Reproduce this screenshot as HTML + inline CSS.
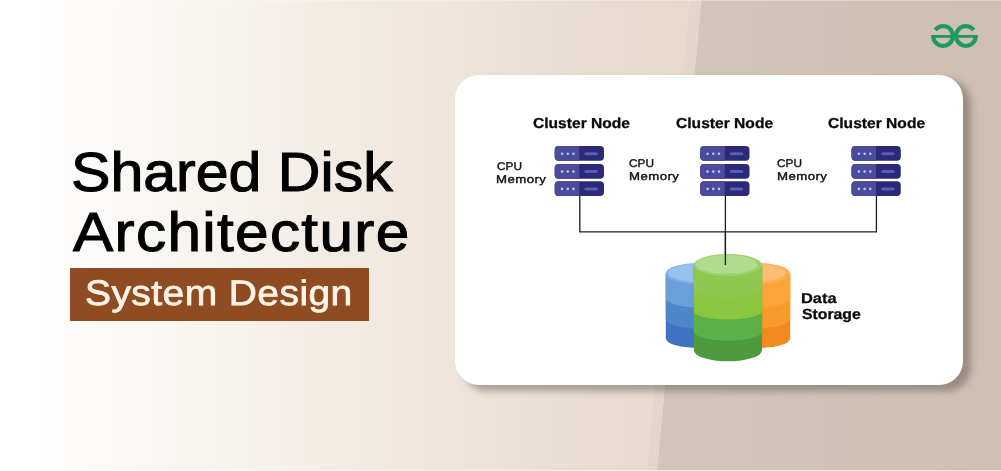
<!DOCTYPE html>
<html lang="en">
<head>
<meta charset="utf-8">
<title>Shared Disk Architecture - System Design</title>
<style>
html,body{margin:0;padding:0;}
body{width:1001px;height:471px;overflow:hidden;position:relative;background:#e6d8cb;font-family:"Liberation Sans",sans-serif;}
#bg{position:absolute;left:0;top:0;width:1001px;height:471px;display:block;}
h1,h2,p{margin:0;padding:0;font-weight:400;font-size:16px;}
.t{position:absolute;display:block;white-space:nowrap;margin:0;padding:0;line-height:1;font-weight:400;transform-origin:0 0;filter:blur(0.3px);text-rendering:geometricPrecision;}
#tag{position:absolute;left:69.8px;top:267.9px;width:299.1px;height:52.9px;background:#8f4b22;}
#card{position:absolute;left:455px;top:75px;width:508px;height:309.5px;border-radius:24px;background:#fff;box-shadow:8px 5.5px 7px rgba(88,78,74,.46);}
#art{position:absolute;left:0;top:0;width:1001px;height:471px;display:block;filter:blur(0.3px);}
</style>
</head>
<body>
<svg id="bg" viewBox="0 0 1001 471" width="1001" height="471">
  <defs>
    <linearGradient id="gl" gradientUnits="userSpaceOnUse" x1="0" y1="0" x2="705" y2="0">
      <stop offset="0" stop-color="#ffffff"/>
      <stop offset="0.05" stop-color="#ffffff"/>
      <stop offset="0.14" stop-color="#fcfaf8"/>
      <stop offset="0.28" stop-color="#f8f5f0"/>
      <stop offset="0.43" stop-color="#f4eee7"/>
      <stop offset="0.57" stop-color="#f0e8df"/>
      <stop offset="0.71" stop-color="#ece2d8"/>
      <stop offset="0.85" stop-color="#e8dcd0"/>
      <stop offset="1" stop-color="#e6d9cc"/>
    </linearGradient>
    <linearGradient id="gr" gradientUnits="userSpaceOnUse" x1="655" y1="0" x2="1001" y2="0">
      <stop offset="0" stop-color="#d2c6ba"/>
      <stop offset="0.5" stop-color="#d0c2b6"/>
      <stop offset="1" stop-color="#cfbfb2"/>
    </linearGradient>
  </defs>
  <rect x="0" y="0" width="1001" height="471" fill="url(#gl)"/>
  <polygon points="701.5,0 1001,0 1001,471 657,471" fill="url(#gr)"/>
  <polygon points="690,0 701.5,0 657,471 647,471" fill="#e1d5ca" opacity="0.9"/>
  <rect x="0" y="0" width="1001" height="1" fill="#ffffff" opacity="0.3"/>
  <rect x="0" y="470" width="1001" height="1" fill="#ffffff" opacity="0.6"/>
</svg>

<header id="hero">
  <h1>
    <span class="t" id="t1" style="left:70.61px;top:144.67px;font-size:55.2px;-webkit-text-stroke:1.05px #000;color:#000;transform:scale(1.0702,0.9992);">Shared Disk</span>
    <span class="t" id="t2" style="left:72.67px;top:204.74px;font-size:55.2px;-webkit-text-stroke:1.05px #000;letter-spacing:1.2px;color:#000;transform:scale(1.0928,0.9967);">Architecture</span>
  </h1>
  <div id="tag"></div>
  <p class="t" id="tagt" style="left:84.62px;top:275.51px;font-size:36.2px;-webkit-text-stroke:0.8px #fff4e8;letter-spacing:0.4px;color:#fff4e8;transform:scale(1.0771,0.9787);">System Design</p>
</header>

<main id="diagram">
  <div id="card"></div>

  <section class="node">
    <h2 class="t" id="cn1" style="left:532.69px;top:116.54px;font-size:15.3px;font-weight:700;-webkit-text-stroke:0.3px #0a0a0a;color:#0a0a0a;transform:scale(1.0191,0.9457);">Cluster Node</h2>
    <p>
      <span class="t" id="cm1a" style="left:496.58px;top:161.51px;font-size:11.4px;-webkit-text-stroke:0.4px #111;color:#111;transform:scale(1.0367,0.9825);">CPU</span>
      <span class="t" id="cm1b" style="left:495.65px;top:174.61px;font-size:11.4px;-webkit-text-stroke:0.4px #111;letter-spacing:0.4px;color:#111;transform:scale(1.1585,0.9825);">Memory</span>
    </p>
  </section>
  <section class="node">
    <h2 class="t" id="cn2" style="left:675.59px;top:116.54px;font-size:15.3px;font-weight:700;-webkit-text-stroke:0.3px #0a0a0a;color:#0a0a0a;transform:scale(1.0202,0.9457);">Cluster Node</h2>
    <p>
      <span class="t" id="cm2a" style="left:628.68px;top:158.51px;font-size:11.4px;-webkit-text-stroke:0.4px #111;color:#111;transform:scale(1.0367,0.9825);">CPU</span>
      <span class="t" id="cm2b" style="left:628.5px;top:171.61px;font-size:11.4px;-webkit-text-stroke:0.4px #111;letter-spacing:0.4px;color:#111;transform:scale(1.1585,0.9825);">Memory</span>
    </p>
  </section>
  <section class="node">
    <h2 class="t" id="cn3" style="left:827.54px;top:116.54px;font-size:15.3px;font-weight:700;-webkit-text-stroke:0.3px #0a0a0a;color:#0a0a0a;transform:scale(1.0202,0.9457);">Cluster Node</h2>
    <p>
      <span class="t" id="cm3a" style="left:776.73px;top:158.51px;font-size:11.4px;-webkit-text-stroke:0.4px #111;color:#111;transform:scale(1.0367,0.9825);">CPU</span>
      <span class="t" id="cm3b" style="left:776.55px;top:171.61px;font-size:11.4px;-webkit-text-stroke:0.4px #111;letter-spacing:0.4px;color:#111;transform:scale(1.1585,0.9825);">Memory</span>
    </p>
  </section>
  <section class="storage">
    <h2>
      <span class="t" id="dsa" style="left:800.68px;top:291.67px;font-size:14.6px;font-weight:700;-webkit-text-stroke:0.3px #0a0a0a;color:#0a0a0a;transform:scale(1.1248,0.978);">Data</span>
      <span class="t" id="dsb" style="left:801.68px;top:307.53px;font-size:14.6px;font-weight:700;-webkit-text-stroke:0.3px #0a0a0a;color:#0a0a0a;transform:scale(1.0813,1.0024);">Storage</span>
    </h2>
  </section>

<svg id="art" viewBox="0 0 1001 471" width="1001" height="471">
  
  <!-- connectors -->
  <path d="M579.8 195 V231.8 H876.4 V195 M725.4 195 V265" fill="none" stroke="#1c1c1c" stroke-width="1.3"/>
  <g>
    <g transform="translate(554.7 146.1)">
      <rect x="0" y="0" width="49.3" height="14.7" rx="4" ry="4" fill="#2a2a78"/>
      <path d="M4 0 H24.6 V14.7 H4 A4 4 0 0 1 0 10.7 V4 A4 4 0 0 1 4 0 Z" fill="#4b4a9b"/>
      <circle cx="7.4" cy="7.6" r="1.3" fill="#b4c8f7"/>
      <circle cx="13.1" cy="7.6" r="1.3" fill="#b4c8f7"/>
      <circle cx="18.8" cy="7.6" r="1.3" fill="#b4c8f7"/>
      <rect x="29.6" y="6.1" width="13.6" height="3" rx="1.5" fill="#5b5bb3"/>
    </g>
    <g transform="translate(554.7 164.0)">
      <rect x="0" y="0" width="49.3" height="14.7" rx="4" ry="4" fill="#2a2a78"/>
      <path d="M4 0 H24.6 V14.7 H4 A4 4 0 0 1 0 10.7 V4 A4 4 0 0 1 4 0 Z" fill="#4b4a9b"/>
      <circle cx="7.4" cy="7.6" r="1.3" fill="#b4c8f7"/>
      <circle cx="13.1" cy="7.6" r="1.3" fill="#b4c8f7"/>
      <circle cx="18.8" cy="7.6" r="1.3" fill="#b4c8f7"/>
      <rect x="29.6" y="6.1" width="13.6" height="3" rx="1.5" fill="#5b5bb3"/>
    </g>
    <g transform="translate(554.7 181.3)">
      <rect x="0" y="0" width="49.3" height="14.7" rx="4" ry="4" fill="#2a2a78"/>
      <path d="M4 0 H24.6 V14.7 H4 A4 4 0 0 1 0 10.7 V4 A4 4 0 0 1 4 0 Z" fill="#4b4a9b"/>
      <circle cx="7.4" cy="7.6" r="1.3" fill="#b4c8f7"/>
      <circle cx="13.1" cy="7.6" r="1.3" fill="#b4c8f7"/>
      <circle cx="18.8" cy="7.6" r="1.3" fill="#b4c8f7"/>
      <rect x="29.6" y="6.1" width="13.6" height="3" rx="1.5" fill="#5b5bb3"/>
    </g>
  </g>
  <g>
    <g transform="translate(700.2 146.1)">
      <rect x="0" y="0" width="49.3" height="14.7" rx="4" ry="4" fill="#2a2a78"/>
      <path d="M4 0 H24.6 V14.7 H4 A4 4 0 0 1 0 10.7 V4 A4 4 0 0 1 4 0 Z" fill="#4b4a9b"/>
      <circle cx="7.4" cy="7.6" r="1.3" fill="#b4c8f7"/>
      <circle cx="13.1" cy="7.6" r="1.3" fill="#b4c8f7"/>
      <circle cx="18.8" cy="7.6" r="1.3" fill="#b4c8f7"/>
      <rect x="29.6" y="6.1" width="13.6" height="3" rx="1.5" fill="#5b5bb3"/>
    </g>
    <g transform="translate(700.2 164.0)">
      <rect x="0" y="0" width="49.3" height="14.7" rx="4" ry="4" fill="#2a2a78"/>
      <path d="M4 0 H24.6 V14.7 H4 A4 4 0 0 1 0 10.7 V4 A4 4 0 0 1 4 0 Z" fill="#4b4a9b"/>
      <circle cx="7.4" cy="7.6" r="1.3" fill="#b4c8f7"/>
      <circle cx="13.1" cy="7.6" r="1.3" fill="#b4c8f7"/>
      <circle cx="18.8" cy="7.6" r="1.3" fill="#b4c8f7"/>
      <rect x="29.6" y="6.1" width="13.6" height="3" rx="1.5" fill="#5b5bb3"/>
    </g>
    <g transform="translate(700.2 181.3)">
      <rect x="0" y="0" width="49.3" height="14.7" rx="4" ry="4" fill="#2a2a78"/>
      <path d="M4 0 H24.6 V14.7 H4 A4 4 0 0 1 0 10.7 V4 A4 4 0 0 1 4 0 Z" fill="#4b4a9b"/>
      <circle cx="7.4" cy="7.6" r="1.3" fill="#b4c8f7"/>
      <circle cx="13.1" cy="7.6" r="1.3" fill="#b4c8f7"/>
      <circle cx="18.8" cy="7.6" r="1.3" fill="#b4c8f7"/>
      <rect x="29.6" y="6.1" width="13.6" height="3" rx="1.5" fill="#5b5bb3"/>
    </g>
  </g>
  <g>
    <g transform="translate(851.5 146.1)">
      <rect x="0" y="0" width="49.3" height="14.7" rx="4" ry="4" fill="#2a2a78"/>
      <path d="M4 0 H24.6 V14.7 H4 A4 4 0 0 1 0 10.7 V4 A4 4 0 0 1 4 0 Z" fill="#4b4a9b"/>
      <circle cx="7.4" cy="7.6" r="1.3" fill="#b4c8f7"/>
      <circle cx="13.1" cy="7.6" r="1.3" fill="#b4c8f7"/>
      <circle cx="18.8" cy="7.6" r="1.3" fill="#b4c8f7"/>
      <rect x="29.6" y="6.1" width="13.6" height="3" rx="1.5" fill="#5b5bb3"/>
    </g>
    <g transform="translate(851.5 164.0)">
      <rect x="0" y="0" width="49.3" height="14.7" rx="4" ry="4" fill="#2a2a78"/>
      <path d="M4 0 H24.6 V14.7 H4 A4 4 0 0 1 0 10.7 V4 A4 4 0 0 1 4 0 Z" fill="#4b4a9b"/>
      <circle cx="7.4" cy="7.6" r="1.3" fill="#b4c8f7"/>
      <circle cx="13.1" cy="7.6" r="1.3" fill="#b4c8f7"/>
      <circle cx="18.8" cy="7.6" r="1.3" fill="#b4c8f7"/>
      <rect x="29.6" y="6.1" width="13.6" height="3" rx="1.5" fill="#5b5bb3"/>
    </g>
    <g transform="translate(851.5 181.3)">
      <rect x="0" y="0" width="49.3" height="14.7" rx="4" ry="4" fill="#2a2a78"/>
      <path d="M4 0 H24.6 V14.7 H4 A4 4 0 0 1 0 10.7 V4 A4 4 0 0 1 4 0 Z" fill="#4b4a9b"/>
      <circle cx="7.4" cy="7.6" r="1.3" fill="#b4c8f7"/>
      <circle cx="13.1" cy="7.6" r="1.3" fill="#b4c8f7"/>
      <circle cx="18.8" cy="7.6" r="1.3" fill="#b4c8f7"/>
      <rect x="29.6" y="6.1" width="13.6" height="3" rx="1.5" fill="#5b5bb3"/>
    </g>
  </g>

  <!-- blue cylinder -->
  <g>
    <path d="M665.8 274 V338.5 A34 9.5 0 0 0 733.8 338.5 V274 Z" fill="#4273c3"/>
    <path d="M665.8 274 V319 A34 9.5 0 0 0 733.8 319 V274 Z" fill="#4f86cb"/>
    <path d="M665.8 274 V298 A34 9.5 0 0 0 733.8 298 V274 Z" fill="#6a9fd9"/>
    <ellipse cx="699.8" cy="273.5" rx="34" ry="10.5" fill="#80aee4"/>
    <ellipse cx="698.6" cy="272.9" rx="30.8" ry="9" fill="#98c1ee"/>
  </g>
  <!-- orange cylinder -->
  <g>
    <path d="M722.2 274 V338.5 A34 9.5 0 0 0 790.2 338.5 V274 Z" fill="#f28a1f"/>
    <path d="M722.2 274 V319 A34 9.5 0 0 0 790.2 319 V274 Z" fill="#f99a2a"/>
    <path d="M722.2 274 V298 A34 9.5 0 0 0 790.2 298 V274 Z" fill="#fba437"/>
    <ellipse cx="756.2" cy="273.5" rx="34" ry="10.5" fill="#fcad4e"/>
    <ellipse cx="755" cy="272.9" rx="30.8" ry="9" fill="#fdbe73"/>
  </g>
  <!-- green cylinder -->
  <g>
    <path d="M693.8 265 V350.3 A34.15 11 0 0 0 762.1 350.3 V265 Z" fill="#4f9a3f"/>
    <path d="M693.8 265 V331.6 A34.15 9 0 0 0 762.1 331.6 V265 Z" fill="#5db046"/>
    <path d="M693.8 265 V311 A34.15 8.5 0 0 0 762.1 311 V265 Z" fill="#8bc641"/>
    <path d="M693.8 265 V289 A34.15 8.5 0 0 0 762.1 289 V265 Z" fill="#8ec850"/>
    <ellipse cx="727.95" cy="265" rx="34.15" ry="11" fill="#9ccf6d"/>
    <ellipse cx="726.6" cy="264.4" rx="30.8" ry="9.4" fill="#b1db8f"/>
  </g>
  <path d="M725.4 231 V265" fill="none" stroke="#1c1c1c" stroke-width="1.3"/>

  <!-- logo -->
  <g fill="none" stroke="#1f9a5c">
    <path d="M931.2 36.4 H977.8" stroke-width="2.6"/>
    <path d="M933.30 36.6 A9.85 9.85 0 1 0 935.28 30.07" stroke-width="4.2"/>
    <path d="M975.70 36.6 A9.85 9.85 0 1 1 973.72 30.07" stroke-width="4.2"/>
  </g>
</svg>
</main>

</body>
</html>
